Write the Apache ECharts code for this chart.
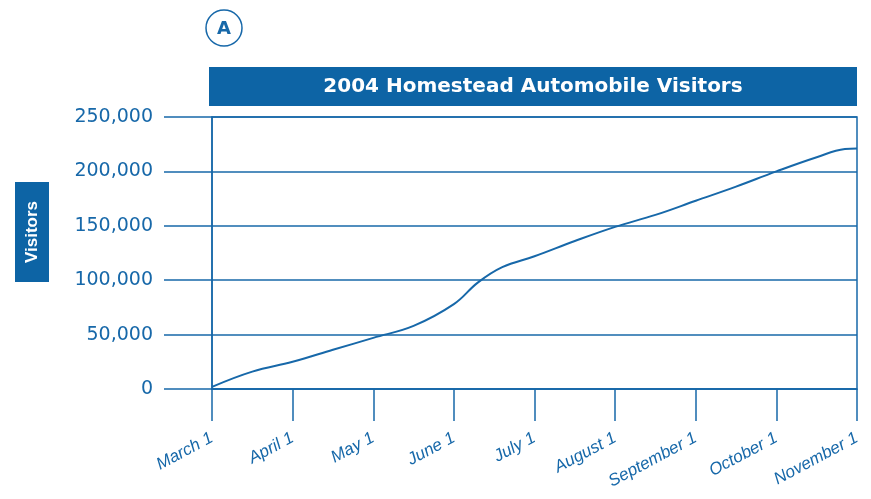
<!DOCTYPE html>
<html>
<head>
<meta charset="utf-8">
<script src="https://cdn.jsdelivr.net/npm/echarts@6/dist/echarts.min.js"></script>
<style>html,body{margin:0;padding:0;background:#fff}#c{width:871px;height:499px}</style>
</head>
<body>
<div id="c"></div>
<script>
const titleText = '2004 Homestead Automobile Visitors';
const yAxisName = 'Visitors';
const badge = 'A';
const monthLabels = ['March 1','April 1','May 1','June 1','July 1','August 1','September 1','October 1','November 1'];
// positions in months after March 1 (read at month and half-month points)
const monthPos = [0, 0.5, 1, 1.5, 2, 2.5, 3, 3.3, 3.6, 4, 4.5, 5, 5.5, 6, 6.5, 7, 7.5, 7.85, 8];
const visitors = [2000, 16000, 25000, 36000, 47000, 58000, 78000, 98000, 112000, 122000, 136000, 149000, 160000, 173000, 186000, 200000, 213000, 220500, 221000];
const yTicks = [0, 50000, 100000, 150000, 200000, 250000];

const BLUE = '#0d64a5';
const LINE = '#1768a9';

const chart = echarts.init(document.getElementById('c'), null, {renderer: 'canvas'});
chart.setOption({
  animation: false,
  backgroundColor: '#fff',
  title: {
    left: 209, top: 67, padding: 0,
    text: '{t|' + titleText + '}',
    textStyle: {
      rich: {
        t: {
          width: 648, height: 39, lineHeight: 39, align: 'center',
          backgroundColor: BLUE, color: '#fff',
          fontFamily: 'DejaVu Sans', fontWeight: 'bold', fontSize: 20
        }
      }
    }
  },
  graphic: [
    {type: 'circle', shape: {cx: 224, cy: 28, r: 18}, style: {fill: '#fff', stroke: LINE, lineWidth: 1.5}},
    {type: 'text', x: 224, y: 29, style: {text: badge, x: 0, y: 0, align: 'center', verticalAlign: 'middle', fill: LINE, font: 'bold 18px "DejaVu Sans"'}},
    {type: 'text', x: 32, y: 232, rotation: Math.PI / 2,
      style: {text: yAxisName, x: 0, y: 0, align: 'center', verticalAlign: 'middle', fill: '#fff',
        font: 'bold 17px "Liberation Sans"', backgroundColor: BLUE, padding: [9, 19, 8, 19]}}
  ],
  grid: {
    left: 212, right: 14, top: 117, bottom: 110,
    show: true, borderColor: LINE, borderWidth: 1.5, backgroundColor: 'transparent'
  },
  xAxis: {
    type: 'value', min: 0, max: monthLabels.length - 1, interval: 1,
    axisLine: {show: true, lineStyle: {color: LINE, width: 1.5}},
    axisTick: {show: true, length: 32, lineStyle: {color: LINE, width: 1.5}},
    splitLine: {show: false},
    axisLabel: {
      show: true, rotate: 28, margin: 48, showMinLabel: true, showMaxLabel: true,
      color: LINE, fontFamily: 'Liberation Sans', fontStyle: 'italic', fontSize: 17,
      formatter: v => monthLabels[Math.round(v)]
    }
  },
  yAxis: {
    type: 'value', min: yTicks[0], max: yTicks[yTicks.length - 1], interval: yTicks[1] - yTicks[0],
    axisLine: {show: true, lineStyle: {color: LINE, width: 1.5}},
    axisTick: {show: true, length: 48, lineStyle: {color: LINE, width: 1.5}},
    splitLine: {show: true, lineStyle: {color: LINE, width: 1.5}},
    axisLabel: {
      margin: 59, color: LINE, fontFamily: 'DejaVu Sans', fontSize: 19,
      formatter: v => v.toLocaleString('en-US')
    }
  },
  series: [{
    type: 'line', smooth: 0.4, symbol: 'none',
    lineStyle: {color: LINE, width: 2},
    data: monthPos.map((m, i) => [m, visitors[i]])
  }]
});
</script>
</body>
</html>
